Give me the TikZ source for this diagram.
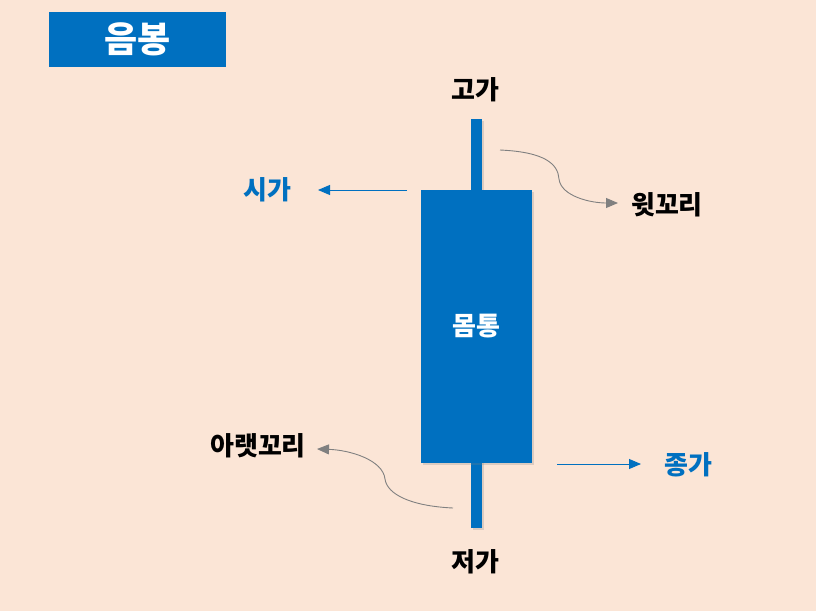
\documentclass[tikz,border=0pt]{standalone}
\usepackage{fontspec}
\setmainfont{Noto Sans CJK KR}
\usetikzlibrary{arrows.meta,shadows}

\definecolor{peach}{HTML}{FBE5D6}
\definecolor{candleblue}{HTML}{0070C0}
\definecolor{tailgray}{HTML}{808080}

\tikzset{
  lbl/.style={font=\fontsize{26}{30}\selectfont\bfseries, inner sep=0pt},
  bluelbl/.style={lbl, text=candleblue},
  candle/.style={fill=candleblue, draw=none, inner sep=0pt,
    drop shadow={opacity=0.25, shadow xshift=2pt, shadow yshift=-2pt}},
  pricearrow/.style={draw=candleblue, line width=0.9pt, -{Triangle[length=12pt,width=10pt]}},
  tailarrow/.style={draw=tailgray, line width=0.9pt, -{Triangle[length=12pt,width=10pt]}}
}

\begin{document}
\begin{tikzpicture}[x=1pt,y=-1pt]
  % Background
  \fill[peach] (0,0) rectangle (816,611);
  \useasboundingbox (0,0) rectangle (816,611);

  % Title
  \node[fill=candleblue, text=white, minimum width=177pt, minimum height=55pt,
        font=\fontsize{36}{40}\selectfont\bfseries] (title) at (137.5,39.5) {음봉};

  % Candle: wick and body
  \node[candle, minimum width=11pt, minimum height=409pt] (wick) at (476.5,323.5) {};
  \node[candle, minimum width=111pt, minimum height=273pt] (body) at (476.5,326.5) {};
  \node[lbl, text=white] (bodylbl) at (476.5,326) {몸통};

  % Prices
  \node[lbl] (high) at (475,90) {고가};
  \node[lbl] (low) at (475,562) {저가};
  \node[bluelbl] (open) at (267,190) {시가};
  \node[bluelbl] (close) at (688,465) {종가};

  % Tails
  \node[lbl] (uptail) at (667,205) {윗꼬리};
  \node[lbl] (lowtail) at (258,446) {아랫꼬리};

  % Arrows for open and close
  \coordinate (openfrom) at (407,190);
  \coordinate (opento) at (318,190);
  \coordinate (closefrom) at (557,464);
  \coordinate (closeto) at (641,464);
  \draw[pricearrow] (openfrom) -- (opento);
  \draw[pricearrow] (closefrom) -- (closeto);

  % Curved arrows for tails
  \coordinate (uptailfrom) at (500,150);
  \coordinate (uptailmid) at (559,179);
  \coordinate (uptailto) at (618,203);
  \draw[tailarrow] (uptailfrom) .. controls (545,152) and (558,164) .. (uptailmid)
    .. controls (561,196) and (590,203) .. (uptailto);
  \coordinate (lowtailfrom) at (453,508);
  \coordinate (lowtailmid) at (385,479);
  \coordinate (lowtailto) at (317,449);
  \draw[tailarrow] (lowtailfrom) .. controls (410,506) and (387,494) .. (lowtailmid)
    .. controls (383,460) and (350,450) .. (lowtailto);
\end{tikzpicture}
\end{document}
